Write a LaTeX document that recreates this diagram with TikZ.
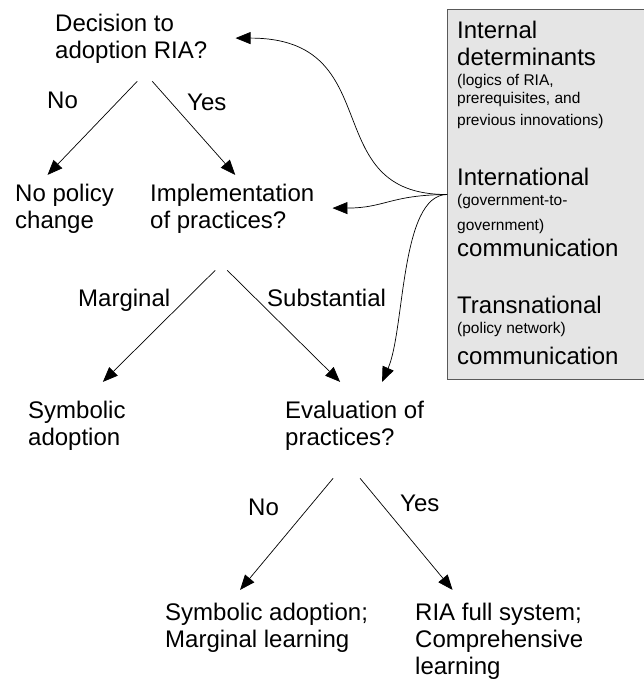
\documentclass[tikz,border=0pt]{standalone}
\usepackage{fontspec}
\setmainfont{Liberation Sans}
\usetikzlibrary{arrows.meta}
\newcommand{\tlines}[1]{\begin{tabular}[t]{@{}l@{}}#1\end{tabular}}
\begin{document}
\begin{tikzpicture}[x=1pt,y=-1pt,
  big/.style={font=\fontsize{24}{27}\selectfont, inner sep=0pt, anchor=base west},
  small/.style={font=\fontsize{15.5}{18}\selectfont, inner sep=0pt, anchor=base west},
  arr/.style={draw=black, line width=0.7pt, -{Triangle[length=15pt,width=12pt]}},
  panel/.style={draw=black!65, fill=black!10, line width=1pt, inner sep=0pt,
    minimum width=220pt, minimum height=370pt, anchor=north west}]
\useasboundingbox (0,0) rectangle (643,680);

% side panel
\node[panel] (box) at (447,9) {};
\node[big]   (l1)  at (457,38)  {Internal};
\node[big]   (l2)  at (457,65)  {determinants};
\node[small] (l3)  at (457,85)  {(logics of RIA,};
\node[small] (l4)  at (457,103) {prerequisites, and};
\node[small] (l5)  at (457,125) {previous innovations)};
\node[big]   (l6)  at (457,185) {International};
\node[small] (l7)  at (457,205) {(government-to-};
\node[small] (l8)  at (457,230) {government)};
\node[big]   (l9)  at (457,256) {communication};
\node[big]   (l10) at (457,313) {Transnational};
\node[small] (l11) at (457,333) {(policy network)};
\node[big]   (l12) at (457,364) {communication};

% tree nodes
\node[big] (dec)   at (55,31)   {\tlines{Decision to\\adoption RIA?}};
\node[big] (nopol) at (15,201)  {\tlines{No policy\\change}};
\node[big] (impl)  at (150,201) {\tlines{Implementation\\of practices?}};
\node[big] (symb)  at (28,418)  {\tlines{Symbolic\\adoption}};
\node[big] (eval)  at (285,418) {\tlines{Evaluation of\\practices?}};
\node[big] (symml) at (165,620) {\tlines{Symbolic adoption;\\Marginal learning}};
\node[big] (ria)   at (415,620) {\tlines{RIA full system;\\Comprehensive\\learning}};

% edge labels
\node[big] (no1)  at (47,108)  {No};
\node[big] (yes1) at (187,110) {Yes};
\node[big] (marg) at (78,306)  {Marginal};
\node[big] (subs) at (267,306) {Substantial};
\node[big] (no2)  at (248,515) {No};
\node[big] (yes2) at (400,511) {Yes};

% tree arrows
\draw[arr] ([xshift=6pt,yshift=-15pt]dec.south) -- ([xshift=-17pt,yshift=7pt]nopol.north);
\draw[arr] ([xshift=21pt,yshift=-15pt]dec.south) -- ([xshift=3pt,yshift=7pt]impl.north);
\draw[arr] ([xshift=-17pt,yshift=-34pt]impl.south) -- ([xshift=26pt,yshift=17pt]symb.north);
\draw[arr] ([xshift=-5pt,yshift=-34pt]impl.south) -- ([xshift=-14.5pt,yshift=17pt]eval.north);
\draw[arr] ([xshift=-21.5pt,yshift=-25pt]eval.south) -- ([xshift=-26.5pt,yshift=11pt]symml.north);
\draw[arr] ([xshift=5.5pt,yshift=-25pt]eval.south) -- ([xshift=-46.7pt,yshift=11pt]ria.north);

% influence curves
\draw[arr] (box.west) .. controls (315,195) and (390,38) .. ([xshift=28pt,yshift=1pt]dec.east);
\draw[arr] (box.west) .. controls (390,195) and (385,208) .. ([xshift=18pt,yshift=1pt]impl.east);
\draw[arr] (box.west) .. controls (400,195) and (405,330) .. ([xshift=27.5pt,yshift=17pt]eval.north);
\end{tikzpicture}
\end{document}
